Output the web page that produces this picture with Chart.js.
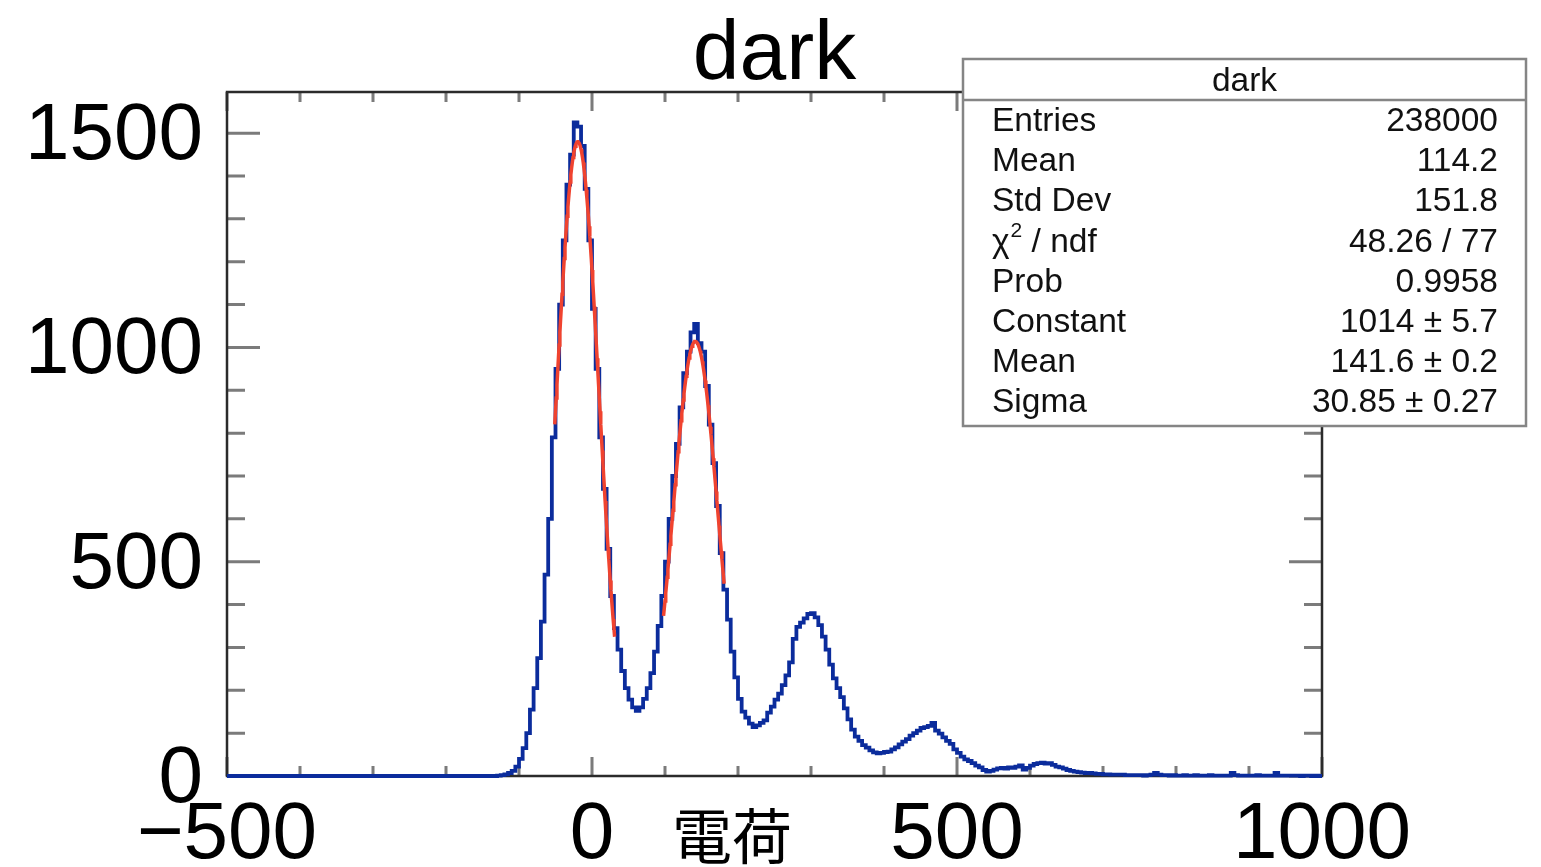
<!DOCTYPE html>
<html>
<head>
<meta charset="utf-8">
<script src="https://cdn.jsdelivr.net/npm/chart.js@4.4.1/dist/chart.umd.min.js"></script>
<style>
  html, body { margin: 0; padding: 0; background: #ffffff; overflow: hidden; }
  #wrap { width: 1541px; height: 867px; position: relative; }
</style>
</head>
<body>
<div id="wrap"><canvas id="c" width="1541" height="867"></canvas></div>
<script>
// Histogram "dark": counts per charge bin, bins start at chargeMin and are binWidth wide
const histTitle = 'dark';
const axisTitleX = '電荷';
const chargeMin = -500;
const chargeMax = 1000;
const binWidth = 5;
const counts = [
  0,0,0,0,0,0,0,0,0,0,
  0,0,0,0,0,0,0,0,0,0,
  0,0,0,0,0,0,0,0,0,0,
  0,0,0,0,0,0,0,0,0,0,
  0,0,0,0,0,0,0,0,0,0,
  0,0,0,0,0,0,0,0,0,0,
  0,0,0,0,0,0,0,0,0,0,
  0,0,0,0,
  1,2,4,7,12,22,40,65,100,155,
  205,275,360,470,600,790,950,1100,1250,1380,
  1450,1525,1515,1470,1370,1250,1090,950,790,670,
  530,420,345,295,245,205,178,160,152,160,
  180,205,240,290,350,420,500,600,700,775,
  860,940,990,1035,1055,1010,990,910,820,730,
  630,520,435,365,290,230,180,150,136,122,
  114,118,124,130,148,162,178,192,212,235,
  265,320,348,358,368,378,380,370,352,325,
  295,260,228,205,184,158,132,108,92,82,
  72,66,60,55,53,54,56,57,62,67,
  74,80,86,94,100,106,112,114,117,124,
  106,99,90,82,75,62,54,45,39,35,
  30,24,20,14,10,12,15,18,19,17,
  20,19,22,25,15,19,24,28,30,31,
  29,30,26,22,20,17,14,12,10,9,
  8,7,7,6,5,5,4,4,3,3,
  3,3,2,2,2,2,2,1,2,3,
  7,3,2,2,1,2,1,1,2,1,
  1,2,1,1,1,2,1,1,1,1,
  1,7,2,1,1,1,1,1,2,1,
  1,1,1,7,1,1,1,1,1,1,
  0,1,1,0,1,0
];

// Gaussian fits drawn over the first two peaks
const fitConstant = [1480, 1014];
const fitMean = [-19.5, 141.6];
const fitSigma = [29, 30.85];
const fitFrom = [-51, 98];
const fitTo = [31, 181];

// Axis ticks
const xMajorTicks = [-500, 0, 500, 1000];
const yMajorTicks = [0, 500, 1000, 1500];
const minorStep = 100;
const yMax = 1596;

// Statistics box
const statLabels = ['Entries', 'Mean', 'Std Dev', 'CHI2', 'Prob', 'Constant', 'Mean', 'Sigma'];
const statValues = ['238000', '114.2', '151.8', '48.26 / 77', '0.9958', '1014 \u00b1 5.7', '141.6 \u00b1 0.2', '30.85 \u00b1 0.27'];

// ---- build datasets from the arrays above ----
const histPoints = counts.map((c, i) => ({ x: chargeMin + i * binWidth, y: c }));
histPoints.push({ x: chargeMin + counts.length * binWidth, y: counts[counts.length - 1] });

function fitCurve(k) {
  const pts = [];
  for (let x = fitFrom[k]; x <= fitTo[k] + 1e-9; x += 1) {
    const d = (x - fitMean[k]) / fitSigma[k];
    pts.push({ x: x, y: fitConstant[k] * Math.exp(-0.5 * d * d) });
  }
  return pts;
}

const SANS = '"Liberation Sans", Arial, Helvetica, sans-serif';
const fmt = v => (v < 0 ? '\u2212' + Math.abs(v) : String(v));

// Frame and inward ticks on all four sides
const framePlugin = {
  id: 'frame',
  beforeDatasetsDraw(chart) {
    const { ctx, chartArea: a, scales } = chart;
    ctx.save();
    ctx.strokeStyle = '#7b7b7b';
    ctx.lineWidth = 3;
    ctx.beginPath();
    for (let v = 0; v <= yMax; v += minorStep) {
      const y = scales.y.getPixelForValue(v);
      const len = yMajorTicks.includes(v) ? 33 : 18;
      ctx.moveTo(a.left, y); ctx.lineTo(a.left + len, y);
      ctx.moveTo(a.right, y); ctx.lineTo(a.right - len, y);
    }
    for (let v = chargeMin; v <= chargeMax; v += minorStep) {
      const x = scales.x.getPixelForValue(v);
      const len = xMajorTicks.includes(v) ? 19 : 10;
      ctx.moveTo(x, a.bottom); ctx.lineTo(x, a.bottom - len);
      ctx.moveTo(x, a.top); ctx.lineTo(x, a.top + len);
    }
    ctx.stroke();
    ctx.strokeStyle = '#2b2b2b';
    ctx.lineWidth = 2.5;
    ctx.strokeRect(a.left, a.top, a.right - a.left, a.bottom - a.top);
    ctx.restore();
  },
  afterDraw(chart) {
    const { ctx, chartArea: a } = chart;
    ctx.save();
    // title
    ctx.fillStyle = '#000';
    ctx.font = '84px ' + SANS;
    ctx.textAlign = 'center';
    ctx.textBaseline = 'alphabetic';
    ctx.fillText(histTitle, (a.left + a.right) / 2, 79);
    // x axis title
    ctx.font = '60px "Noto Sans CJK JP", "Noto Sans CJK SC", sans-serif';
    ctx.textBaseline = 'middle';
    ctx.fillText(axisTitleX, 732, 836);

    // statistics box
    const bx = 963, by = 59, bw = 563, bh = 367, hy = 100;
    ctx.fillStyle = '#fff';
    ctx.fillRect(bx, by, bw, bh);
    ctx.strokeStyle = '#858585';
    ctx.lineWidth = 2.5;
    ctx.strokeRect(bx, by, bw, bh);
    ctx.beginPath();
    ctx.moveTo(bx, hy); ctx.lineTo(bx + bw, hy);
    ctx.stroke();
    ctx.fillStyle = '#111';
    ctx.font = '33.5px ' + SANS;
    ctx.textAlign = 'center';
    ctx.textBaseline = 'middle';
    ctx.fillText(histTitle, bx + bw / 2, 82);
    const left = 992, right = 1498;
    statLabels.forEach((lab, i) => {
      const y = 122 + i * 40.1;
      ctx.textAlign = 'left';
      if (lab === 'CHI2') {
        ctx.font = '33.5px ' + SANS;
        ctx.fillText('\u03c7', left, y);
        const w = ctx.measureText('\u03c7').width;
        ctx.font = '21px ' + SANS;
        ctx.fillText('2', left + w + 1, y - 11);
        const w2 = ctx.measureText('2').width;
        ctx.font = '33.5px ' + SANS;
        ctx.fillText(' / ndf', left + w + w2 + 1, y);
      } else {
        ctx.font = '33.5px ' + SANS;
        ctx.fillText(lab, left, y);
      }
      ctx.textAlign = 'right';
      ctx.fillText(statValues[i], right, y);
    });
    ctx.restore();
  }
};

new Chart(document.getElementById('c'), {
  type: 'line',
  data: {
    datasets: [
      {
        label: histTitle,
        data: histPoints,
        stepped: 'before',
        borderColor: '#0b2c9c',
        borderWidth: 3.8,
        pointRadius: 0,
        fill: false,
        clip: 4,
        order: 2
      },
      {
        label: 'gaus 1',
        data: fitCurve(0),
        borderColor: '#f0432f',
        borderWidth: 3.5,
        pointRadius: 0,
        tension: 0,
        fill: false,
        order: 1
      },
      {
        label: 'gaus 2',
        data: fitCurve(1),
        borderColor: '#f0432f',
        borderWidth: 3.5,
        pointRadius: 0,
        tension: 0,
        fill: false,
        order: 1
      }
    ]
  },
  options: {
    responsive: false,
    devicePixelRatio: 1,
    animation: false,
    layout: { padding: { top: 92, right: 219, left: 0, bottom: 0 } },
    plugins: { legend: { display: false }, tooltip: { enabled: false }, title: { display: false } },
    scales: {
      x: {
        type: 'linear',
        min: chargeMin,
        max: chargeMax,
        grid: { display: false, drawTicks: false },
        border: { display: false },
        afterBuildTicks(scale) { scale.ticks = xMajorTicks.map(v => ({ value: v })); },
        ticks: {
          autoSkip: false,
          maxRotation: 0,
          padding: 12,
          color: '#000',
          font: { family: SANS, size: 80 },
          callback: v => fmt(v)
        },
        afterFit(scale) { scale.height = 91; }
      },
      y: {
        type: 'linear',
        min: 0,
        max: yMax,
        grid: { display: false, drawTicks: false },
        border: { display: false },
        afterBuildTicks(scale) { scale.ticks = yMajorTicks.map(v => ({ value: v })); },
        ticks: {
          autoSkip: false,
          padding: 24,
          labelOffset: 4,
          color: '#000',
          font: { family: SANS, size: 80 },
          callback: v => fmt(v)
        },
        afterFit(scale) { scale.width = 227; }
      }
    }
  },
  plugins: [framePlugin]
});
</script>
</body>
</html>
